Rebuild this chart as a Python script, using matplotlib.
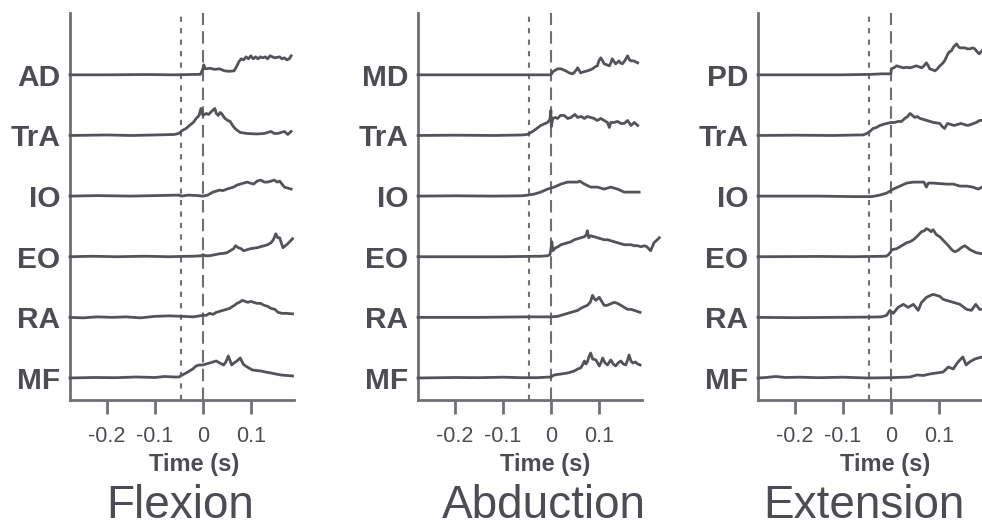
import matplotlib
matplotlib.use("Agg")
import matplotlib.pyplot as plt
import numpy as np

# Rectified EMG envelopes (a.u.) as (time in s, amplitude) breakpoints.
# Flexion
flex_AD = [(-0.277, 0), (-0.2, 0), (-0.12, 0.3), (-0.06, 0), (-0.03, 0.3), (-0.005, 0.5), (0.0, 6), (0.002, 10),
           (0.005, 6), (0.015, 6.5), (0.025, 5.5), (0.035, 6), (0.045, 4), (0.055, 3.5), (0.065, 4), (0.07, 8),
           (0.075, 13), (0.08, 16), (0.085, 15), (0.09, 18), (0.095, 16), (0.1, 19), (0.105, 16), (0.11, 18),
           (0.115, 16), (0.12, 18), (0.125, 17), (0.13, 18), (0.135, 16), (0.14, 19), (0.15, 17), (0.16, 18),
           (0.165, 16), (0.17, 17), (0.175, 15), (0.18, 16), (0.184, 19)]
flex_TrA = [(-0.277, 0), (-0.2, 0.5), (-0.15, 0), (-0.1, 0.5), (-0.06, 1), (-0.05, 2), (-0.043, 5), (-0.035, 7),
            (-0.028, 10), (-0.02, 13), (-0.014, 17), (-0.008, 20), (-0.004, 27), (0.0, 20), (0.007, 22),
            (0.012, 21), (0.018, 24), (0.025, 27), (0.028, 22), (0.032, 20), (0.036, 23), (0.039, 22), (0.046, 17),
            (0.052, 15), (0.057, 14), (0.062, 10), (0.067, 7), (0.072, 5), (0.078, 3), (0.092, 2), (0.113, 1.5),
            (0.128, 2), (0.142, 4), (0.149, 2), (0.156, 2), (0.163, 3), (0.17, 4), (0.177, 1), (0.184, 4)]
flex_IO = [(-0.277, 0), (-0.22, 0.5), (-0.15, 0), (-0.1, 0.5), (-0.05, 1), (-0.045, 0), (-0.03, 1), (-0.01, 0.5),
           (0.0, 0), (0.01, 1), (0.021, 4), (0.028, 5), (0.035, 6), (0.042, 5.5), (0.05, 7), (0.057, 8),
           (0.064, 9), (0.071, 11), (0.078, 12), (0.085, 13), (0.092, 14), (0.099, 13), (0.106, 12), (0.113, 15),
           (0.121, 16), (0.128, 14), (0.135, 14), (0.142, 15), (0.149, 16), (0.155, 14), (0.16, 15), (0.165, 12),
           (0.17, 9), (0.177, 8), (0.184, 7)]
flex_EO = [(-0.277, 0), (-0.23, 0.5), (-0.18, 0), (-0.12, 0.5), (-0.07, 0), (-0.045, 0.3), (-0.02, 0.5),
           (-0.002, 1), (0.0, 2), (0.005, 1), (0.014, 1), (0.025, 2), (0.035, 3), (0.045, 3.5), (0.05, 4),
           (0.057, 6), (0.064, 8), (0.068, 11), (0.074, 9), (0.08, 8), (0.085, 6), (0.092, 7), (0.099, 8),
           (0.106, 8.5), (0.113, 9), (0.12, 10), (0.128, 11), (0.135, 12), (0.142, 14), (0.147, 17), (0.152, 23),
           (0.156, 19), (0.16, 19), (0.167, 9), (0.172, 11), (0.177, 13), (0.187, 18)]
flex_RA = [(-0.277, 0), (-0.25, -0.5), (-0.22, 0.5), (-0.19, 0), (-0.16, 0.5), (-0.13, -0.5), (-0.1, 1),
           (-0.07, 1.5), (-0.04, 1), (-0.02, 0.5), (0.0, 2), (0.007, 2), (0.014, 4), (0.021, 3), (0.028, 5),
           (0.035, 6), (0.042, 7), (0.049, 8), (0.056, 9), (0.062, 11), (0.066, 12), (0.071, 14), (0.076, 15),
           (0.082, 17), (0.088, 16), (0.094, 15), (0.1, 16), (0.106, 15), (0.113, 14), (0.12, 14), (0.128, 12),
           (0.135, 11), (0.142, 9), (0.15, 8), (0.157, 5), (0.165, 4), (0.175, 4), (0.187, 3.5)]
flex_MF = [(-0.277, 0), (-0.23, 0.5), (-0.18, 0.3), (-0.14, 1), (-0.1, 0.5), (-0.08, 1.5), (-0.06, 1), (-0.05, 1),
           (-0.043, 3), (-0.035, 5), (-0.028, 7), (-0.021, 9), (-0.014, 12), (-0.007, 13), (0.0, 13), (0.007, 14),
           (0.014, 15), (0.021, 16), (0.028, 17), (0.035, 15), (0.043, 13), (0.048, 16), (0.053, 22), (0.057, 17),
           (0.06, 13), (0.065, 15), (0.071, 17), (0.078, 20), (0.084, 14), (0.089, 12), (0.096, 10), (0.103, 8),
           (0.112, 7.5), (0.121, 7), (0.13, 6), (0.142, 5), (0.152, 4), (0.163, 3), (0.175, 2.5), (0.187, 2)]

# Abduction
abd_MD = [(-0.277, 0), (0.0, 0), (0.004, 3), (0.007, 4), (0.014, 6), (0.021, 6), (0.026, 5), (0.031, 4),
          (0.038, 2), (0.045, 1), (0.05, 3), (0.056, 7), (0.062, 2), (0.068, 3), (0.076, 4), (0.082, 5),
          (0.087, 6), (0.092, 8), (0.097, 9), (0.1, 14), (0.104, 17), (0.108, 14), (0.111, 11), (0.117, 10),
          (0.122, 9), (0.125, 12), (0.128, 16), (0.132, 13), (0.135, 11), (0.14, 13), (0.142, 14), (0.145, 12),
          (0.149, 11), (0.154, 14), (0.16, 19), (0.164, 15), (0.167, 14), (0.172, 14), (0.177, 13), (0.181, 12)]
abd_TrA = [(-0.277, 0), (-0.2, 0.3), (-0.12, 0), (-0.06, 0.5), (-0.05, 1), (-0.045, 2), (-0.04, 3.5),
           (-0.035, 5), (-0.028, 7.5), (-0.021, 10), (-0.014, 11.5), (-0.007, 13), (-0.002, 16), (0.0, 25),
           (0.001, 9), (0.004, 17), (0.009, 18), (0.014, 17), (0.02, 20), (0.028, 20), (0.035, 17), (0.042, 18),
           (0.05, 21), (0.056, 18), (0.063, 19), (0.07, 17), (0.076, 19), (0.083, 18), (0.09, 17), (0.097, 15),
           (0.104, 17), (0.111, 15), (0.118, 13), (0.122, 8), (0.125, 13), (0.132, 13), (0.139, 14), (0.146, 12),
           (0.153, 12), (0.16, 15), (0.167, 10), (0.174, 13), (0.181, 10)]
abd_IO = [(-0.277, 0), (-0.2, 0.3), (-0.12, 0), (-0.06, 0.3), (-0.048, 1), (-0.035, 2), (-0.021, 4),
          (-0.007, 7), (0.007, 9), (0.021, 12), (0.035, 14), (0.045, 14), (0.056, 14), (0.06, 15), (0.07, 12),
          (0.083, 9), (0.097, 9), (0.111, 7), (0.125, 9), (0.139, 7), (0.153, 4), (0.167, 4), (0.184, 4)]
abd_EO = [(-0.277, 0), (-0.1, 0), (-0.02, 0.5), (-0.007, 1), (-0.002, 2), (0.0, 7), (0.002, 15), (0.004, 6),
          (0.01, 9), (0.015, 10), (0.021, 12), (0.028, 13), (0.035, 14), (0.042, 15), (0.049, 17), (0.056, 18),
          (0.063, 19), (0.07, 20), (0.074, 22), (0.076, 26), (0.079, 19), (0.083, 21), (0.09, 20), (0.097, 19),
          (0.104, 18), (0.111, 17), (0.118, 17), (0.125, 16), (0.132, 15), (0.139, 14), (0.146, 13), (0.153, 12),
          (0.16, 12), (0.167, 12), (0.174, 11), (0.181, 11), (0.188, 10), (0.195, 11), (0.2, 10), (0.208, 6),
          (0.215, 14), (0.222, 17), (0.226, 19)]
abd_RA = [(-0.277, 0), (-0.15, 0), (-0.05, 0.5), (0.0, 0.5), (0.014, 1), (0.028, 3), (0.042, 5), (0.056, 7),
          (0.066, 10), (0.076, 12), (0.082, 15), (0.087, 22), (0.09, 19), (0.094, 17), (0.098, 19), (0.101, 20),
          (0.106, 16), (0.111, 12), (0.117, 12), (0.122, 13), (0.127, 14), (0.132, 15), (0.139, 14), (0.146, 12),
          (0.153, 10), (0.16, 8), (0.167, 8), (0.174, 7), (0.18, 6), (0.186, 5)]
abd_MF = [(-0.277, 0), (-0.2, 0.5), (-0.15, 0.3), (-0.1, 0.8), (-0.06, 0.3), (-0.03, 0.3), (0.0, 1), (0.007, 3),
          (0.014, 3.5), (0.021, 4), (0.028, 4.5), (0.035, 5), (0.042, 6), (0.049, 7), (0.056, 9), (0.062, 10),
          (0.066, 13), (0.07, 17), (0.073, 14), (0.076, 16), (0.08, 22), (0.083, 25), (0.087, 19), (0.094, 18),
          (0.101, 12), (0.105, 16), (0.108, 20), (0.113, 15), (0.118, 13), (0.122, 16), (0.125, 18), (0.13, 14),
          (0.135, 12), (0.14, 15), (0.146, 17), (0.151, 14), (0.156, 13), (0.16, 18), (0.163, 23), (0.167, 17),
          (0.171, 15), (0.176, 16), (0.181, 14), (0.186, 13)]

# Extension
ext_PD = [(-0.277, 0), (-0.1, 0), (-0.04, 0.5), (-0.02, 1), (0.0, 1), (0.001, 6), (0.006, 7), (0.012, 9),
          (0.019, 8), (0.026, 7), (0.033, 7.5), (0.04, 7), (0.047, 8), (0.053, 9), (0.059, 8), (0.064, 7),
          (0.069, 9), (0.074, 12), (0.078, 9), (0.081, 6), (0.087, 5), (0.092, 4), (0.097, 6), (0.102, 9),
          (0.107, 11), (0.112, 14), (0.116, 18), (0.119, 21), (0.122, 23), (0.126, 24), (0.131, 28), (0.137, 31),
          (0.141, 28), (0.144, 27), (0.149, 27), (0.154, 27), (0.16, 26), (0.165, 26), (0.17, 27), (0.175, 26),
          (0.18, 23), (0.184, 21), (0.19, 24)]
ext_TrA = [(-0.277, 0), (-0.2, 0.3), (-0.12, 0), (-0.07, 0.5), (-0.058, 0.5), (-0.05, 2), (-0.044, 4),
           (-0.037, 7), (-0.03, 8), (-0.023, 10), (-0.016, 11), (-0.009, 12), (0.001, 13), (0.008, 13),
           (0.015, 14), (0.022, 14), (0.029, 17), (0.035, 19), (0.04, 22), (0.045, 20), (0.05, 18), (0.055, 19),
           (0.061, 17), (0.068, 16), (0.075, 15), (0.082, 14), (0.089, 13), (0.096, 12.5), (0.102, 12),
           (0.107, 9), (0.112, 7), (0.118, 12), (0.125, 11), (0.132, 10), (0.139, 11), (0.146, 12), (0.153, 11),
           (0.16, 10), (0.167, 11), (0.178, 13), (0.185, 15), (0.19, 15)]
ext_IO = [(-0.277, 0), (-0.15, 0), (-0.08, -0.5), (-0.04, -0.5), (-0.023, 1), (-0.009, 3), (0.005, 7),
          (0.019, 10), (0.033, 13), (0.047, 14), (0.06, 14), (0.069, 14), (0.074, 9), (0.078, 13), (0.088, 13),
          (0.102, 12.5), (0.116, 12), (0.13, 12), (0.144, 10), (0.158, 10), (0.171, 9), (0.182, 7), (0.19, 9)]
ext_EO = [(-0.277, 0), (-0.15, 0.3), (-0.08, 0), (-0.01, 0.5), (-0.005, 2), (0.0, 5), (0.002, 7), (0.012, 8),
          (0.019, 10), (0.026, 12), (0.033, 14), (0.04, 15), (0.047, 17), (0.054, 20), (0.06, 23), (0.064, 25),
          (0.07, 26), (0.074, 28), (0.079, 27), (0.084, 25), (0.088, 27), (0.095, 22), (0.102, 20), (0.106, 18),
          (0.112, 15), (0.12, 11), (0.127, 7), (0.133, 5), (0.139, 6), (0.144, 8), (0.15, 10), (0.154, 11),
          (0.16, 9), (0.165, 7), (0.178, 4), (0.19, 3)]
ext_RA = [(-0.277, 0), (-0.2, -0.3), (-0.12, 0), (-0.04, 0.3), (-0.02, 0.5), (-0.009, 2), (-0.002, 7),
          (0.002, 5), (0.005, 4), (0.015, 10), (0.026, 13), (0.036, 10), (0.047, 13), (0.057, 7), (0.064, 15),
          (0.074, 20), (0.083, 22), (0.088, 23), (0.095, 22), (0.102, 21), (0.109, 18), (0.116, 17), (0.13, 15),
          (0.144, 13), (0.158, 8), (0.168, 7), (0.177, 13), (0.185, 8), (0.19, 8)]
ext_MF = [(-0.277, 0), (-0.26, 0.5), (-0.24, 1.5), (-0.22, 0.5), (-0.19, 0.8), (-0.15, 0.3), (-0.1, 0.8),
          (-0.05, 0), (0.0, 0.3), (0.04, 1), (0.054, 3), (0.068, 2.5), (0.081, 4), (0.095, 5), (0.109, 6),
          (0.12, 11), (0.13, 9), (0.14, 16), (0.15, 21), (0.157, 13), (0.164, 16), (0.175, 19), (0.19, 21)]

movements = ["Flexion", "Abduction", "Extension"]
muscles = [
    ["AD", "TrA", "IO", "EO", "RA", "MF"],
    ["MD", "TrA", "IO", "EO", "RA", "MF"],
    ["PD", "TrA", "IO", "EO", "RA", "MF"],
]
traces = [
    [flex_AD, flex_TrA, flex_IO, flex_EO, flex_RA, flex_MF],
    [abd_MD, abd_TrA, abd_IO, abd_EO, abd_RA, abd_MF],
    [ext_PD, ext_TrA, ext_IO, ext_EO, ext_RA, ext_MF],
]
xticks = [-0.2, -0.1, 0, 0.1]
xticklabels = ["-0.2", "-0.1", "0", "0.1"]
onset_t = -0.045  # trunk onset marker (dotted)
move_t = 0.0      # movement onset (dashed)

amp_scale = 1 / 60.6  # amplitude units per row spacing
trace_color = "#545359"
axis_color = "#716f76"
text_color = "#4d4c54"
narrow = ["Liberation Sans Narrow", "Liberation Sans", "DejaVu Sans"]

plt.rcParams["axes.unicode_minus"] = False
plt.rcParams["font.family"] = ["Liberation Sans", "DejaVu Sans"]

fig = plt.figure(figsize=(9.82, 5.29), dpi=100)
lefts = [70 / 982, 418 / 982, 758 / 982]
width = 224 / 982
bottom = 129 / 529
height = 387 / 529
title_x = [180 / 982, 544 / 982, 864 / 982]
xlabel_x = [194 / 982, 545 / 982, 885 / 982]

for i, name in enumerate(movements):
    ax = fig.add_axes([lefts[i], bottom, width, height])
    ax.set_xlim(-0.277, 0.19)
    ax.set_ylim(-0.363, 6.02)

    n = len(muscles[i])
    offsets = [n - 1 - k for k in range(n)]
    for pts, off in zip(traces[i], offsets):
        t = np.array([p[0] for p in pts])
        a = np.array([p[1] for p in pts])
        ax.plot(t, off + a * amp_scale, color=trace_color, lw=2.0,
                solid_joinstyle="round", clip_on=False, zorder=3)

    ax.axvline(onset_t, color=axis_color, lw=1.5, ls=(0, (2.5, 3.0)), zorder=2)
    ax.axvline(move_t, color=axis_color, lw=1.5, ls=(0, (6, 3.0)), zorder=2)

    for side in ["top", "right"]:
        ax.spines[side].set_visible(False)
    for side in ["left", "bottom"]:
        ax.spines[side].set_color(axis_color)
        ax.spines[side].set_linewidth(2)

    ax.set_yticks(offsets)
    ax.set_yticklabels(muscles[i], fontsize=21.5, fontweight="bold", color=text_color)
    ax.tick_params(axis="y", length=0, pad=7)
    ax.set_xticks(xticks)
    ax.set_xticklabels(xticklabels, fontsize=15.5, color=text_color, fontfamily=narrow)
    ax.tick_params(axis="x", length=10, width=2, color=axis_color, pad=9)

    fig.text(xlabel_x[i], 1 - 464 / 529, "Time (s)", fontsize=17, fontweight="bold",
             color=text_color, ha="center", va="center", fontfamily=narrow)
    fig.text(title_x[i], 1 - 506 / 529, name, fontsize=33, color=text_color,
             ha="center", va="center")

fig.savefig("out.png", dpi=100)
